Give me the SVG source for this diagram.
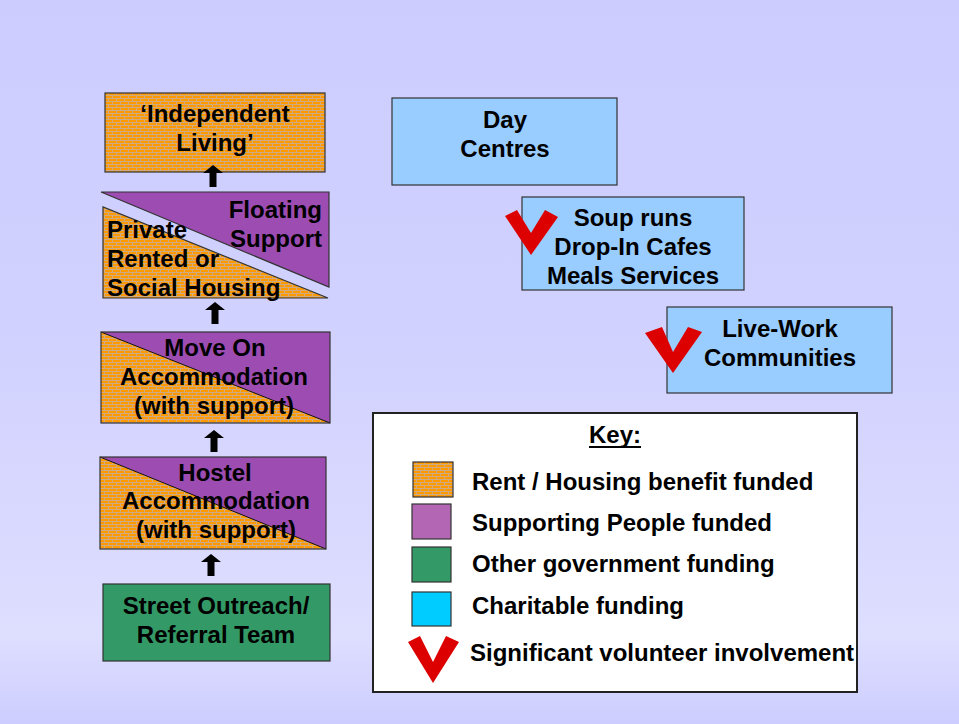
<svg xmlns="http://www.w3.org/2000/svg" width="959" height="724" viewBox="0 0 959 724">
<defs>
<linearGradient id="bg" x1="0" y1="0" x2="0" y2="1">
<stop offset="0" stop-color="#ccccff"/>
<stop offset="0.5" stop-color="#d2d2ff"/>
<stop offset="0.88" stop-color="#dedeff"/>
<stop offset="1" stop-color="#cdcdff"/>
</linearGradient>
<pattern id="brick" width="8" height="6" patternUnits="userSpaceOnUse">
<rect width="8" height="6" fill="#ff9900"/>
<rect x="0" y="2" width="8" height="1" fill="#d0aa80"/>
<rect x="0" y="5" width="8" height="1" fill="#d0aa80"/>
<rect x="0" y="0" width="1" height="2" fill="#d0aa80"/>
<rect x="4" y="3" width="1" height="2" fill="#d0aa80"/>
</pattern>
<path id="arrow" d="M0 0 L10 8 L3.5 8 L3.5 22 L-3.5 22 L-3.5 8 L-10 8 Z"/>
</defs>
<style>
.t{font-family:"Liberation Sans",Arial,sans-serif;font-weight:bold;font-size:24px;fill:#000}
.c{text-anchor:middle}
.e{text-anchor:end}
.box{stroke:#333;stroke-width:1.2}
.brick{fill:url(#brick)}
.purple{fill:#9d4db2}
.blue{fill:#99ccff}
.green{fill:#339966}
.tick{fill:#dd0000}
.dia{stroke:#111;stroke-width:1;fill:none}
</style>
<rect width="959" height="724" fill="url(#bg)"/>

<g id="independent-living">
<rect x="105" y="93" width="220" height="79" class="brick box"/>
<text class="t c" x="215" y="122">‘Independent</text>
<text class="t c" x="215" y="151">Living’</text>
</g>

<g id="floating-private">
<polygon points="101,192 329,192 329,287" class="purple box"/>
<polygon points="103,207 103,298 328,298" class="brick box"/>
<text class="t e" x="322" y="218">Floating</text>
<text class="t e" x="322" y="247">Support</text>
<text class="t" x="107" y="238">Private</text>
<text class="t" x="107" y="267">Rented or</text>
<text class="t" x="107" y="296">Social Housing</text>
</g>

<g id="move-on">
<rect x="101" y="332" width="229" height="91" class="purple"/>
<polygon points="101,332 101,423 330,423" class="brick"/>
<line x1="101" y1="332" x2="330" y2="423" class="dia"/>
<rect x="101" y="332" width="229" height="91" class="box" fill="none"/>
<text class="t c" x="215" y="356">Move On</text>
<text class="t c" x="214" y="385">Accommodation</text>
<text class="t c" x="214" y="414">(with support)</text>
</g>

<g id="hostel">
<rect x="100" y="457" width="226" height="92" class="purple"/>
<polygon points="100,457 100,549 326,549" class="brick"/>
<line x1="100" y1="457" x2="326" y2="549" class="dia"/>
<rect x="100" y="457" width="226" height="92" class="box" fill="none"/>
<text class="t c" x="215" y="481">Hostel</text>
<text class="t c" x="216" y="509">Accommodation</text>
<text class="t c" x="216" y="538">(with support)</text>
</g>

<g id="street-outreach">
<rect x="103" y="584" width="227" height="77" class="green box"/>
<text class="t c" x="216" y="614">Street Outreach/</text>
<text class="t c" x="216" y="643">Referral Team</text>
</g>

<g id="day-centres">
<rect x="392" y="98" width="225" height="87" class="blue box"/>
<text class="t c" x="505" y="128">Day</text>
<text class="t c" x="505" y="157">Centres</text>
</g>

<g id="soup-runs">
<rect x="522" y="197" width="222" height="93" class="blue box"/>
<text class="t c" x="633" y="226">Soup runs</text>
<text class="t c" x="633" y="255">Drop-In Cafes</text>
<text class="t c" x="633" y="284">Meals Services</text>
<polygon points="505,216 517,210 531,233 545,210 558,217 531,255" class="tick"/>
</g>

<g id="live-work">
<rect x="667" y="307" width="225" height="86" class="blue box"/>
<text class="t c" x="780" y="337">Live-Work</text>
<text class="t c" x="780" y="366">Communities</text>
<polygon points="645,333 662,327 673,352 688,327 702,332 673,373" class="tick"/>
</g>

<g id="key">
<rect x="373" y="413" width="484" height="279" fill="#fff" stroke="#222" stroke-width="2"/>
<text class="t c" x="615" y="443">Key:</text>
<rect x="589" y="446" width="52" height="2" fill="#000"/>
<rect x="413" y="462" width="40" height="35" class="brick box"/>
<rect x="412" y="504" width="39" height="35" fill="#b366b3" class="box"/>
<rect x="412" y="547" width="39" height="35" class="green box"/>
<rect x="412" y="592" width="39" height="34" fill="#00ccff" class="box"/>
<polygon points="408,642 420,636 433,662 446,636 459,642 433,683" class="tick"/>
<text class="t" x="472" y="490">Rent / Housing benefit funded</text>
<text class="t" x="472" y="531">Supporting People funded</text>
<text class="t" x="472" y="572">Other government funding</text>
<text class="t" x="472" y="614">Charitable funding</text>
<text class="t" x="470" y="661">Significant volunteer involvement</text>
</g>

<g id="connectors" fill="#000">
<use href="#arrow" x="213" y="165"/>
<use href="#arrow" x="215" y="302"/>
<use href="#arrow" x="214" y="430"/>
<use href="#arrow" x="211" y="554"/>
</g>
</svg>
